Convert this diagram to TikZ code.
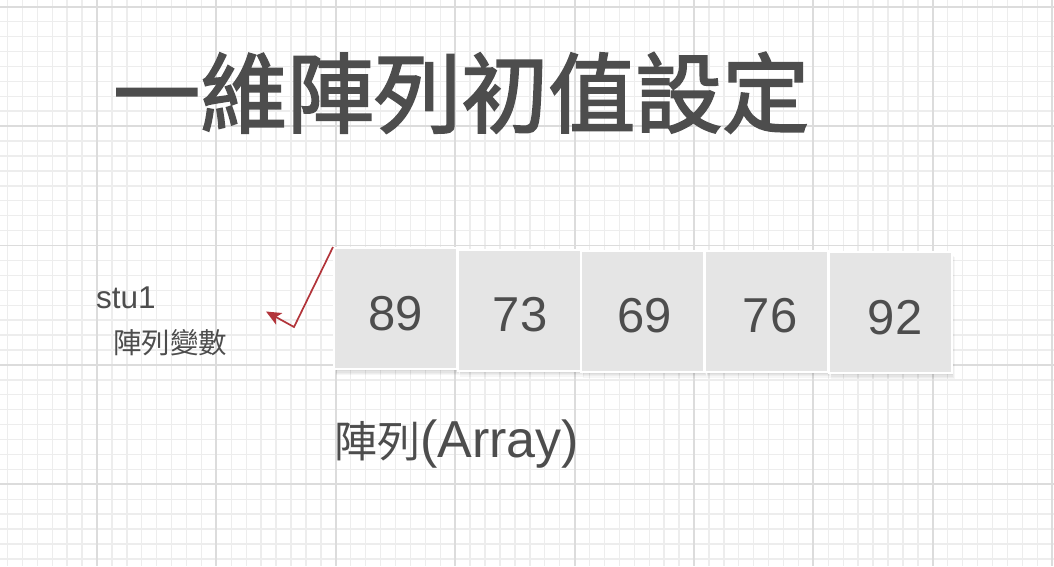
\documentclass[tikz,border=0pt]{standalone}
\usepackage{fontspec}
\setmainfont{Liberation Sans}
\newfontfamily\cjk{Noto Sans CJK TC}
\newfontfamily\cjktitle[FakeBold=2.2]{Noto Sans CJK TC}
\usetikzlibrary{arrows.meta}
\definecolor{gridminor}{HTML}{EDEDED}
\definecolor{gridmajor}{HTML}{DCDCDC}
\definecolor{boxfill}{HTML}{E5E5E5}
\definecolor{txt}{HTML}{4D4D4D}
\definecolor{arrowred}{HTML}{B2343A}
\tikzset{
  minorline/.style={draw=gridminor, line width=1.4pt},
  majorline/.style={draw=gridmajor, line width=1.9pt},
  cell/.style={draw=white, line width=2pt, fill=boxfill, minimum width=123pt, minimum height=121pt,
    inner sep=0pt, text=txt, font=\fontsize{49}{49}\selectfont, text height=43pt, text depth=0pt},
  shadowbox/.style={fill=black, opacity=0.035},
  pointer/.style={draw=arrowred, line width=1.7pt, -{Stealth[length=15pt,width=13pt,inset=3.5pt]}},
}
\begin{document}
\begin{tikzpicture}[x=1pt,y=-1pt]
\useasboundingbox (0,0) rectangle (1054,566);
\fill[white] (0,0) rectangle (1054,566);
% grid
\foreach \i in {0,...,70} {
  \draw[minorline] ({7.45+14.925*\i},0) -- ({7.45+14.925*\i},566);
  \draw[minorline] (0,{6.7+14.925*\i}) -- (1054,{6.7+14.925*\i});
}
\foreach \i in {0,...,8} {
  \draw[majorline] ({97+119.4*\i},0) -- ({97+119.4*\i},566);
}
\foreach \i in {0,...,4} {
  \draw[majorline] (0,{6.7+119.4*\i}) -- (1054,{6.7+119.4*\i});
}
% title
\node[anchor=base west, inner sep=0pt, text=txt, font=\cjktitle\fontsize{87}{87}\selectfont] (title) at (113,126) {一維陣列初值設定};
% shadows
\foreach \cx/\cy in {395.5/308.5, 519/310, 642.5/311, 766/311, 890/312.5} {
  \foreach \s in {1,2,3,4,5} {
    \fill[shadowbox] ({\cx-61.5+2},{\cy-60.5+\s}) rectangle ({\cx+61.5+\s*0.6},{\cy+60.5+\s*1.2});
  }
}
% cells
\node[cell] (b1) at (395.5,308.5) {\hspace*{1pt}89};
\node[cell] (b2) at (519,310) {\hspace*{2pt}73};
\node[cell] (b3) at (642.5,311) {\hspace*{4pt}69};
\node[cell] (b4) at (766,311) {\hspace*{8pt}76};
\node[cell] (b5) at (890,312.5) {\hspace*{10pt}92};
% labels
\node[anchor=base west, inner sep=0pt, text=txt, font=\fontsize{31.5}{31.5}\selectfont] (stu) at (96,308) {stu1};
\node[anchor=base west, inner sep=0pt, text=txt, font=\cjk\fontsize{28.5}{28.5}\selectfont] (var) at (113,353.5) {陣列變數};
\node[anchor=base west, inner sep=0pt, text=txt] (arr) at (334,457) {{\cjk\fontsize{43}{43}\selectfont 陣列}{\fontsize{52}{52}\selectfont (Array)}};
% pointer
\coordinate (bend) at (294,327);
\coordinate (tip) at (266,311.5);
\draw[pointer] (b1.north west) -- (bend) -- (tip);
\end{tikzpicture}
\end{document}
